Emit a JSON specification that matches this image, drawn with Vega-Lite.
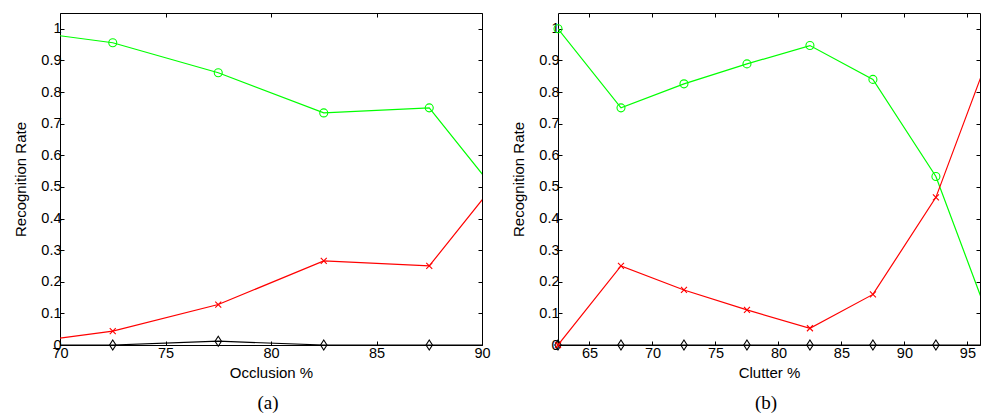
{
  "$schema": "https://vega.github.io/schema/vega-lite/v6.json",
  "padding": {"left": 13, "top": 12, "right": 0, "bottom": 0},
  "background": "white",
  "spacing": 76,
  "bounds": "flush",
  "config": {
    "view": {"stroke": null},
    "axis": {
      "grid": false,
      "domainColor": "black",
      "tickColor": "black",
      "labelColor": "black",
      "titleColor": "black",
      "labelFont": "Liberation Sans",
      "titleFont": "Liberation Sans",
      "labelFontSize": 14.5,
      "titleFontSize": 15,
      "titleFontWeight": "normal",
      "tickSize": -4,
      "domainWidth": 1,
      "tickWidth": 1,
      "labelFlush": false
    },
    "axisLeft": {"labelPadding": 3, "titlePadding": 12},
    "axisBottom": {"labelPadding": 5, "titlePadding": 6}
  },
  "datasets": {
    "a": [
      {"x": 67.5, "value": 1.0, "series": "True Positive"},
      {"x": 72.5, "value": 0.956, "series": "True Positive"},
      {"x": 77.5, "value": 0.861, "series": "True Positive"},
      {"x": 82.5, "value": 0.734, "series": "True Positive"},
      {"x": 87.5, "value": 0.75, "series": "True Positive"},
      {"x": 92.5, "value": 0.333, "series": "True Positive"},
      {"x": 67.5, "value": 0.0, "series": "False Positive"},
      {"x": 72.5, "value": 0.0, "series": "False Positive"},
      {"x": 77.5, "value": 0.012, "series": "False Positive"},
      {"x": 82.5, "value": 0.0, "series": "False Positive"},
      {"x": 87.5, "value": 0.0, "series": "False Positive"},
      {"x": 92.5, "value": 0.0, "series": "False Positive"},
      {"x": 67.5, "value": 0.0, "series": "False Negative"},
      {"x": 72.5, "value": 0.044, "series": "False Negative"},
      {"x": 77.5, "value": 0.128, "series": "False Negative"},
      {"x": 82.5, "value": 0.266, "series": "False Negative"},
      {"x": 87.5, "value": 0.25, "series": "False Negative"},
      {"x": 92.5, "value": 0.667, "series": "False Negative"}
    ],
    "b": [
      {"x": 62.5, "value": 1.0, "series": "True Positive"},
      {"x": 67.5, "value": 0.75, "series": "True Positive"},
      {"x": 72.5, "value": 0.826, "series": "True Positive"},
      {"x": 77.5, "value": 0.889, "series": "True Positive"},
      {"x": 82.5, "value": 0.947, "series": "True Positive"},
      {"x": 87.5, "value": 0.84, "series": "True Positive"},
      {"x": 92.5, "value": 0.533, "series": "True Positive"},
      {"x": 97.5, "value": 0.0, "series": "True Positive"},
      {"x": 62.5, "value": 0.0, "series": "False Positive"},
      {"x": 67.5, "value": 0.0, "series": "False Positive"},
      {"x": 72.5, "value": 0.0, "series": "False Positive"},
      {"x": 77.5, "value": 0.0, "series": "False Positive"},
      {"x": 82.5, "value": 0.0, "series": "False Positive"},
      {"x": 87.5, "value": 0.0, "series": "False Positive"},
      {"x": 92.5, "value": 0.0, "series": "False Positive"},
      {"x": 97.5, "value": 0.0, "series": "False Positive"},
      {"x": 62.5, "value": 0.0, "series": "False Negative"},
      {"x": 67.5, "value": 0.25, "series": "False Negative"},
      {"x": 72.5, "value": 0.174, "series": "False Negative"},
      {"x": 77.5, "value": 0.111, "series": "False Negative"},
      {"x": 82.5, "value": 0.053, "series": "False Negative"},
      {"x": 87.5, "value": 0.16, "series": "False Negative"},
      {"x": 92.5, "value": 0.467, "series": "False Negative"},
      {"x": 97.5, "value": 1.0, "series": "False Negative"}
    ]
  },
  "hconcat": [
    {
      "data": {"name": "a"},
      "width": 422,
      "height": 332,
      "title": {"text": "(a)", "orient": "bottom", "font": "Liberation Serif", "fontSize": 19, "fontWeight": "normal", "color": "black", "offset": 13, "dx": -3},
      "layer": [
        {
          "mark": {"type": "line", "clip": true, "strokeWidth": 1.2},
          "encoding": {
            "x": {"field": "x", "type": "quantitative", "scale": {"domain": [70, 90], "nice": false, "zero": false}, "axis": {"orient": "bottom", "title": "Occlusion %", "values": [70, 75, 80, 85, 90]}},
            "y": {"field": "value", "type": "quantitative", "scale": {"domain": [0, 1.05], "nice": false}, "axis": {"orient": "left", "title": "Recognition Rate", "values": [0, 0.1, 0.2, 0.3, 0.4, 0.5, 0.6, 0.7, 0.8, 0.9, 1], "format": ".1~f"}},
            "stroke": {"field": "series", "type": "nominal", "scale": {"domain": ["True Positive", "False Positive", "False Negative"], "range": ["#00ff00", "#000000", "#ff0000"]}, "legend": null}
          }
        },
        {
          "transform": [{"filter": {"and": [{"field": "x", "range": [70, 90]}, {"field": "series", "equal": "True Positive"}]}}],
          "mark": {"type": "point", "shape": "M1,0A1,1 0 1 1 -1,0A1,1 0 1 1 1,0", "filled": false, "opacity": 1, "color": "#00ff00", "strokeWidth": 1.1, "size": 64},
          "encoding": {
            "x": {"field": "x", "type": "quantitative", "axis": null},
            "y": {"field": "value", "type": "quantitative", "axis": null}
          }
        },
        {
          "transform": [{"filter": {"and": [{"field": "x", "range": [70, 90]}, {"field": "series", "equal": "False Positive"}]}}],
          "mark": {"type": "point", "shape": "M0,-1.25L0.8,0L0,1.25L-0.8,0Z", "filled": false, "opacity": 1, "color": "#000000", "strokeWidth": 1.1, "size": 64},
          "encoding": {
            "x": {"field": "x", "type": "quantitative", "axis": null},
            "y": {"field": "value", "type": "quantitative", "axis": null}
          }
        },
        {
          "transform": [{"filter": {"and": [{"field": "x", "range": [70, 90]}, {"field": "series", "equal": "False Negative"}]}}],
          "mark": {"type": "point", "shape": "M-0.75,-0.75L0.75,0.75M-0.75,0.75L0.75,-0.75", "filled": false, "opacity": 1, "color": "#ff0000", "strokeWidth": 1.1, "size": 64},
          "encoding": {
            "x": {"field": "x", "type": "quantitative", "axis": null},
            "y": {"field": "value", "type": "quantitative", "axis": null}
          }
        },
        {
          "transform": [{"filter": "datum.x == 67.5"}],
          "mark": {"type": "point", "clip": true, "opacity": 0},
          "encoding": {
            "x": {"field": "x", "type": "quantitative", "axis": null},
            "y": {"field": "value", "type": "quantitative", "axis": null},
            "size": {"field": "value", "type": "quantitative", "legend": {"orient": "top-left", "title": null, "values": [0.5], "labelOpacity": 0, "labelFontSize": 1, "symbolOpacity": 0, "symbolStrokeColor": "transparent", "symbolFillColor": "transparent"}}
          }
        },
        {
          "transform": [{"filter": "datum.x == 67.5"}],
          "mark": {"type": "point", "clip": true, "filled": false, "opacity": 1, "strokeWidth": 1, "size": 64},
          "encoding": {
            "x": {"field": "x", "type": "quantitative", "axis": {"orient": "top", "labels": false, "title": null, "values": [70, 75, 80, 85, 90]}},
            "y": {"field": "value", "type": "quantitative", "axis": {"orient": "right", "labels": false, "title": null, "values": [0, 0.1, 0.2, 0.3, 0.4, 0.5, 0.6, 0.7, 0.8, 0.9, 1]}},
            "color": {"field": "series", "type": "nominal", "scale": {"domain": ["True Positive", "False Positive", "False Negative"], "range": ["#00ff00", "#000000", "#ff0000"]}, "legend": {"orient": "none", "legendX": 5, "legendY": 133, "title": "T", "titleColor": "white", "titleFontSize": 1, "titlePadding": 0, "strokeColor": "black", "fillColor": "white", "padding": 5, "labelOffset": 38, "symbolSize": 64, "symbolStrokeWidth": 1, "labelFontSize": 15, "labelFont": "Liberation Sans", "labelColor": "black", "rowPadding": 3.5}},
            "shape": {"field": "series", "type": "nominal", "scale": {"domain": ["True Positive", "False Positive", "False Negative"], "range": ["M-0.125,0H9.125M5.5,0A1,1 0 1 1 3.5,0A1,1 0 1 1 5.5,0", "M-0.125,0H9.125M4.5,-1.25L5.3,0L4.5,1.25L3.7,0Z", "M-0.125,0H9.125M3.75,-0.75L5.25,0.75M3.75,0.75L5.25,-0.75"]}, "legend": {"orient": "none", "legendX": 5, "legendY": 133, "title": "T", "titleColor": "white", "titleFontSize": 1, "titlePadding": 0, "strokeColor": "black", "fillColor": "white", "padding": 5, "labelOffset": 38, "symbolSize": 64, "symbolStrokeWidth": 1, "labelFontSize": 15, "labelFont": "Liberation Sans", "labelColor": "black", "rowPadding": 3.5}}
          }
        }
      ],
      "resolve": {"axis": {"x": "independent", "y": "independent"}}
    },
    {
      "data": {"name": "b"},
      "width": 422,
      "height": 332,
      "title": {"text": "(b)", "orient": "bottom", "font": "Liberation Serif", "fontSize": 19, "fontWeight": "normal", "color": "black", "offset": 13, "dx": -3},
      "layer": [
        {
          "mark": {"type": "line", "clip": true, "strokeWidth": 1.2},
          "encoding": {
            "x": {"field": "x", "type": "quantitative", "scale": {"domain": [62.5, 96], "nice": false, "zero": false}, "axis": {"orient": "bottom", "title": "Clutter %", "values": [65, 70, 75, 80, 85, 90, 95]}},
            "y": {"field": "value", "type": "quantitative", "scale": {"domain": [0, 1.05], "nice": false}, "axis": {"orient": "left", "title": "Recognition Rate", "values": [0, 0.1, 0.2, 0.3, 0.4, 0.5, 0.6, 0.7, 0.8, 0.9, 1], "format": ".1~f"}},
            "stroke": {"field": "series", "type": "nominal", "scale": {"domain": ["True Positive", "False Positive", "False Negative"], "range": ["#00ff00", "#000000", "#ff0000"]}, "legend": null}
          }
        },
        {
          "transform": [{"filter": {"and": [{"field": "x", "range": [62.5, 96]}, {"field": "series", "equal": "True Positive"}]}}],
          "mark": {"type": "point", "shape": "M1,0A1,1 0 1 1 -1,0A1,1 0 1 1 1,0", "filled": false, "opacity": 1, "color": "#00ff00", "strokeWidth": 1.1, "size": 64},
          "encoding": {
            "x": {"field": "x", "type": "quantitative", "axis": null},
            "y": {"field": "value", "type": "quantitative", "axis": null}
          }
        },
        {
          "transform": [{"filter": {"and": [{"field": "x", "range": [62.5, 96]}, {"field": "series", "equal": "False Positive"}]}}],
          "mark": {"type": "point", "shape": "M0,-1.25L0.8,0L0,1.25L-0.8,0Z", "filled": false, "opacity": 1, "color": "#000000", "strokeWidth": 1.1, "size": 64},
          "encoding": {
            "x": {"field": "x", "type": "quantitative", "axis": null},
            "y": {"field": "value", "type": "quantitative", "axis": null}
          }
        },
        {
          "transform": [{"filter": {"and": [{"field": "x", "range": [62.5, 96]}, {"field": "series", "equal": "False Negative"}]}}],
          "mark": {"type": "point", "shape": "M-0.75,-0.75L0.75,0.75M-0.75,0.75L0.75,-0.75", "filled": false, "opacity": 1, "color": "#ff0000", "strokeWidth": 1.1, "size": 64},
          "encoding": {
            "x": {"field": "x", "type": "quantitative", "axis": null},
            "y": {"field": "value", "type": "quantitative", "axis": null}
          }
        },
        {
          "transform": [{"filter": "datum.x == 97.5"}],
          "mark": {"type": "point", "clip": true, "opacity": 0},
          "encoding": {
            "x": {"field": "x", "type": "quantitative", "axis": null},
            "y": {"field": "value", "type": "quantitative", "axis": null},
            "size": {"field": "value", "type": "quantitative", "legend": {"orient": "top-left", "title": null, "values": [0.5], "labelOpacity": 0, "labelFontSize": 1, "symbolOpacity": 0, "symbolStrokeColor": "transparent", "symbolFillColor": "transparent"}}
          }
        },
        {
          "transform": [{"filter": "datum.x == 97.5"}],
          "mark": {"type": "point", "clip": true, "filled": false, "opacity": 1, "strokeWidth": 1, "size": 64},
          "encoding": {
            "x": {"field": "x", "type": "quantitative", "axis": {"orient": "top", "labels": false, "title": null, "values": [65, 70, 75, 80, 85, 90, 95]}},
            "y": {"field": "value", "type": "quantitative", "axis": {"orient": "right", "labels": false, "title": null, "values": [0, 0.1, 0.2, 0.3, 0.4, 0.5, 0.6, 0.7, 0.8, 0.9, 1]}},
            "color": {"field": "series", "type": "nominal", "scale": {"domain": ["True Positive", "False Positive", "False Negative"], "range": ["#00ff00", "#000000", "#ff0000"]}, "legend": {"orient": "none", "legendX": 5, "legendY": 133, "title": "T", "titleColor": "white", "titleFontSize": 1, "titlePadding": 0, "strokeColor": "black", "fillColor": "white", "padding": 5, "labelOffset": 38, "symbolSize": 64, "symbolStrokeWidth": 1, "labelFontSize": 15, "labelFont": "Liberation Sans", "labelColor": "black", "rowPadding": 3.5}},
            "shape": {"field": "series", "type": "nominal", "scale": {"domain": ["True Positive", "False Positive", "False Negative"], "range": ["M-0.125,0H9.125M5.5,0A1,1 0 1 1 3.5,0A1,1 0 1 1 5.5,0", "M-0.125,0H9.125M4.5,-1.25L5.3,0L4.5,1.25L3.7,0Z", "M-0.125,0H9.125M3.75,-0.75L5.25,0.75M3.75,0.75L5.25,-0.75"]}, "legend": {"orient": "none", "legendX": 5, "legendY": 133, "title": "T", "titleColor": "white", "titleFontSize": 1, "titlePadding": 0, "strokeColor": "black", "fillColor": "white", "padding": 5, "labelOffset": 38, "symbolSize": 64, "symbolStrokeWidth": 1, "labelFontSize": 15, "labelFont": "Liberation Sans", "labelColor": "black", "rowPadding": 3.5}}
          }
        }
      ],
      "resolve": {"axis": {"x": "independent", "y": "independent"}}
    }
  ]
}
